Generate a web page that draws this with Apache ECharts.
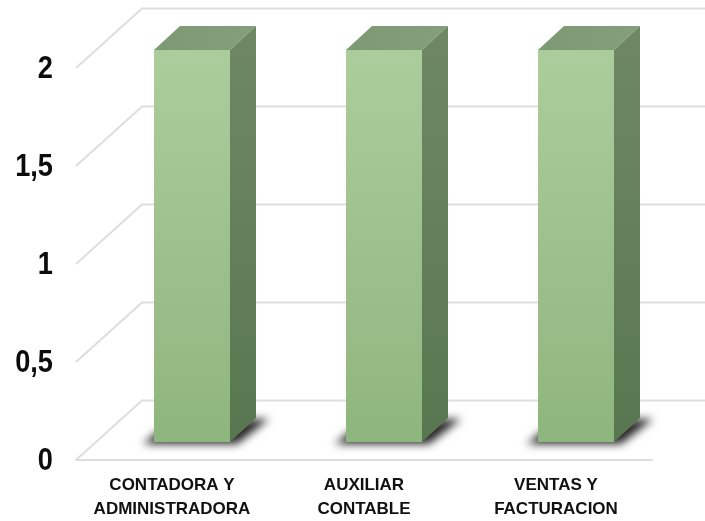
<!DOCTYPE html>
<html>
<head>
<meta charset="utf-8">
<style>html,body{margin:0;padding:0;background:#fff}#chart{width:705px;height:521px}</style>
<script src="https://cdn.jsdelivr.net/npm/echarts@6/dist/echarts.min.js"></script>
</head>
<body>
<div id="chart"></div>
<script>
const categories = ['CONTADORA Y\nADMINISTRADORA', 'AUXILIAR\nCONTABLE', 'VENTAS Y\nFACTURACION'];
const values = [2, 2, 2];
const yTicks = [0, 0.5, 1, 1.5, 2];
const yTickLabels = ['0', '0,5', '1', '1,5', '2'];

// Oblique projection of the fake 3D box
const WALL_DX = 66, WALL_DY = -59.5;
const BAR_DX = 20, BAR_DY = -18;
const BAR_W = 76, DEPTH_X = 26, DEPTH_Y = -24;
// The floor shadow is painted off canvas so only its blur lands on the chart
const SHADOW_SHIFT = 1000;

function vGrad(a, b) {
  return new echarts.graphic.LinearGradient(0, 0, 0, 1, [{offset: 0, color: a}, {offset: 1, color: b}]);
}

// Side wall and back wall gridline for one tick, plus its condensed tick label
function renderWall(params, api) {
  const y = api.coord([0, api.value(1)])[1];
  const left = params.coordSys.x;
  return {
    type: 'group',
    silent: true,
    children: [
      {
        type: 'polyline',
        shape: {points: [[left, y], [left + WALL_DX, y + WALL_DY], [760, y + WALL_DY]]},
        style: {fill: null, stroke: '#dedede', lineWidth: 2}
      },
      {
        type: 'text',
        x: left - 23,
        y: y + 1,
        scaleX: 0.85,
        style: {
          text: yTickLabels[params.dataIndex],
          fill: '#0c0c0c',
          fontFamily: 'Liberation Sans',
          fontWeight: 'bold',
          fontSize: 32,
          align: 'right',
          verticalAlign: 'middle'
        }
      }
    ]
  };
}

function renderBar(params, api) {
  const top = api.coord([api.value(0), api.value(1)]);
  const base = api.coord([api.value(0), 0]);
  const x0 = top[0] + BAR_DX - BAR_W / 2, x1 = x0 + BAR_W;
  const yT = top[1] + BAR_DY, yB = base[1] + BAR_DY;
  const dx = DEPTH_X, dy = DEPTH_Y;
  const s = SHADOW_SHIFT;
  return {
    type: 'group',
    children: [
      {
        type: 'polygon',
        shape: {points: [
          [x0 - 11 - s, yB + 2], [x0 + 6 - s, yB - 12], [x1 + dx - s, yB + dy + 1],
          [x1 + dx + 13 - s, yB + dy + 1], [x1 + 7 - s, yB + 2]
        ]},
        style: {fill: '#000000', shadowBlur: 8, shadowColor: 'rgba(0,0,0,0.85)', shadowOffsetX: s}
      },
      {
        type: 'polygon',
        shape: {points: [[x0, yT], [x1, yT], [x1 + dx, yT + dy], [x0 + dx, yT + dy]]},
        style: {fill: new echarts.graphic.LinearGradient(0, 0, 1, 0, [{offset: 0, color: '#7d9974'}, {offset: 1, color: '#84a07b'}])}
      },
      {
        type: 'polygon',
        shape: {points: [[x1, yT], [x1 + dx, yT + dy], [x1 + dx, yB + dy], [x1, yB]]},
        style: {fill: vGrad('#6f8863', '#587750')}
      },
      {
        type: 'rect',
        shape: {x: x0, y: yT, width: BAR_W, height: yB - yT},
        style: {fill: vGrad('#abcd9c', '#8fb57e')}
      }
    ]
  };
}

const chart = echarts.init(document.getElementById('chart'), null, {renderer: 'canvas'});
chart.setOption({
  animation: false,
  backgroundColor: '#ffffff',
  grid: {left: 76, right: 53, top: 68, bottom: 60},
  xAxis: {
    type: 'category',
    data: categories,
    axisTick: {show: false},
    axisLine: {show: true, lineStyle: {color: '#dedede', width: 2}},
    axisLabel: {
      color: '#111111', fontFamily: 'Liberation Sans', fontWeight: 'bold',
      fontSize: 17, lineHeight: 24, margin: 13, interval: 0
    }
  },
  yAxis: {
    type: 'value',
    min: 0, max: 2, interval: 0.5,
    axisLine: {show: false},
    axisTick: {show: false},
    splitLine: {show: false},
    axisLabel: {show: false}
  },
  series: [
    {
      type: 'custom', z: 1, clip: false,
      renderItem: renderWall,
      data: yTicks.map(t => [0, t])
    },
    {
      type: 'custom', z: 2, clip: false,
      renderItem: renderBar,
      data: values.map((v, i) => [i, v])
    }
  ]
});
</script>
</body>
</html>
